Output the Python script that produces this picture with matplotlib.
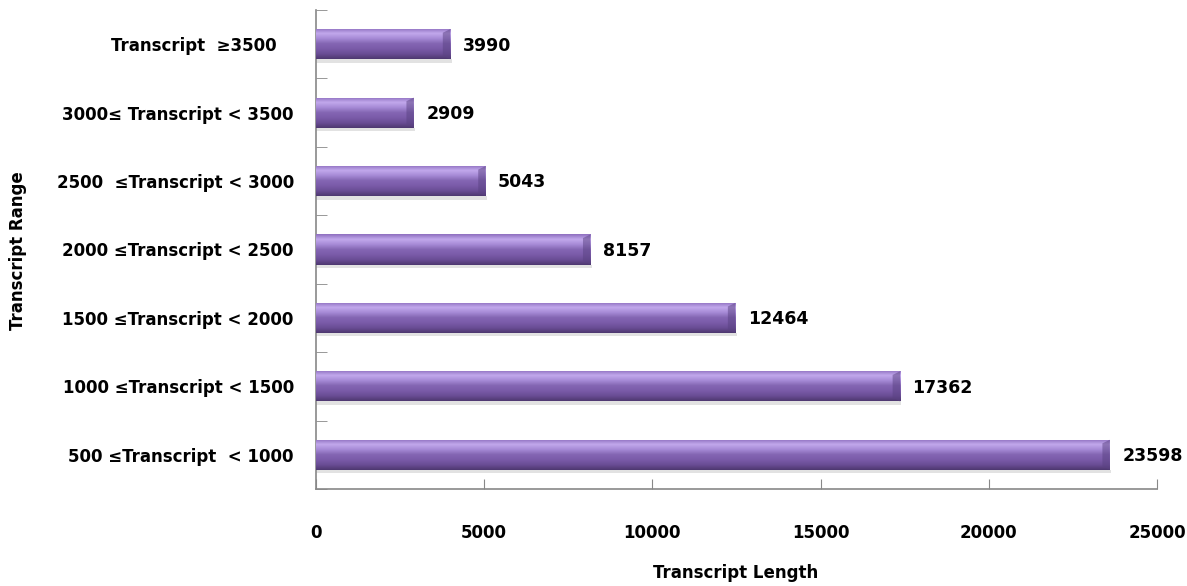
import numpy as np
import matplotlib
matplotlib.use('Agg')
import matplotlib.pyplot as plt
from matplotlib.colors import LinearSegmentedColormap
from matplotlib.patches import Rectangle, Polygon

ranges = ['500 \u2264Transcript  < 1000', '1000 \u2264Transcript < 1500',
          '1500 \u2264Transcript < 2000', '2000 \u2264Transcript < 2500',
          '2500  \u2264Transcript < 3000', '3000\u2264 Transcript < 3500',
          'Transcript  \u22653500   ']
counts = [23598, 17362, 12464, 8157, 5043, 2909, 3990]
xticks = [0, 5000, 10000, 15000, 20000, 25000]

plt.rcParams['font.family'] = ['DejaVu Sans']
plt.rcParams['font.weight'] = 'bold'

fig = plt.figure(figsize=(11.87, 5.86), dpi=100)
ax = fig.add_axes([0.2662, 0.1655, 0.7085, 0.8175])

# gradient for the bars, bottom (dark) to top (light)
grad = LinearSegmentedColormap.from_list('bar', ['#4e3870', '#6a4d95', '#7a5ba9',
                                                  '#8466b3', '#a68ad6', '#c2a8ec', '#8f70c0'])
h = 0.44
y = np.arange(len(counts))
bars = ax.barh(y, counts, height=h, color='#7a5ba9', zorder=2)
g = np.linspace(0, 1, 100).reshape(-1, 1)
for b in bars:
    x0, y0 = b.get_x(), b.get_y()
    w, hh = b.get_width(), b.get_height()
    # soft shadow under the bar
    ax.add_patch(Rectangle((x0, y0 - 0.05), w + 40, 0.05, color='#e2e2e2', zorder=1, lw=0))
    im = ax.imshow(g, cmap=grad, aspect='auto', extent=(x0, x0 + w, y0, y0 + hh),
                   origin='lower', zorder=3)
    im.set_clip_path(b)
    # chamfered right end
    cw = 220
    ax.add_patch(Polygon([(x0 + w - cw, y0 + hh * 0.12), (x0 + w - cw, y0 + hh * 0.88),
                          (x0 + w, y0 + hh), (x0 + w, y0)],
                         closed=True, color='#5a4282', alpha=0.5, zorder=4, lw=0))

for yi, c in zip(y, counts):
    ax.annotate(str(c), (c, yi), xytext=(9, -1), textcoords='offset points',
                va='center', ha='left', fontsize=12.5, fontweight='bold')

ax.set_xticks(xticks)
ax.set_xticklabels([str(t) for t in xticks], fontsize=12, fontweight='bold')
ax.set_yticks(y)
ax.set_yticklabels(ranges, fontsize=12)
ax.set_yticks(np.arange(-0.5, 7, 1), minor=True)
ax.tick_params(axis='y', which='major', length=0, pad=16)
ax.tick_params(axis='y', which='minor', direction='in', length=8, color='#888888')
ax.tick_params(axis='x', direction='in', length=7, color='#888888', pad=25)
ax.set_xlim(0, 25000)
ax.set_ylim(-0.5, 6.5)

for s in ['top', 'right']:
    ax.spines[s].set_visible(False)
for s in ['left', 'bottom']:
    ax.spines[s].set_color('#888888')
    ax.spines[s].set_linewidth(1.2)

fig.text(0.6199, 0.022, 'Transcript Length', ha='center', va='center',
         fontsize=12, fontweight='bold')
fig.text(0.0152, 0.573, 'Transcript Range', ha='center', va='center', rotation=90,
         fontsize=12, fontweight='bold')

fig.savefig('out.png', dpi=100)
